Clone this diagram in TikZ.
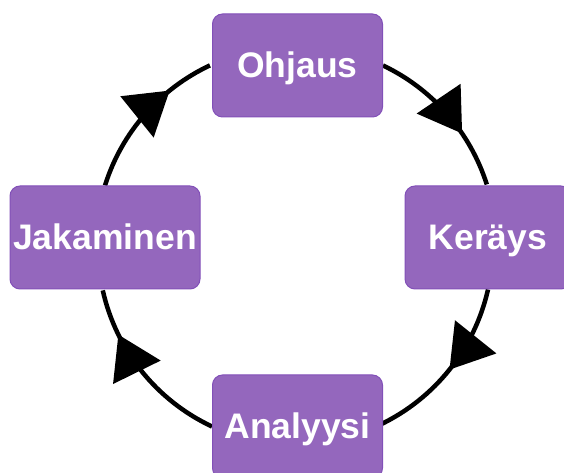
\documentclass[tikz,border=0pt]{standalone}
\usepackage{fontspec}
\setmainfont{Liberation Sans}
\usetikzlibrary{arrows.meta,decorations.markings,backgrounds}
\definecolor{stagefill}{HTML}{9467BD}
\definecolor{stageedge}{HTML}{8250B8}
\tikzset{
  stage/.style={draw=stageedge, line width=1pt, fill=stagefill,
    rounded corners=10pt, text=white,
    font=\fontsize{35.5}{40}\selectfont\bfseries,
    text height=25pt, text depth=0pt, inner sep=0pt, minimum height=103pt},
  cycleline/.style={line width=4.5pt, black},
  tipat/.style={postaction={decorate},
    decoration={markings, mark=at position #1 with
      {\arrow{Triangle[length=42pt,width=52pt]}}}},
}
\begin{document}
\begin{tikzpicture}[x=1pt,y=1pt]
\useasboundingbox (0,0) rectangle (564,473);

% the four stages of the cycle
\node[stage, minimum width=170pt] (O) at (297.5,407.5) {Ohjaus};
\node[stage, minimum width=166pt] (K) at (488,235.5) {Keräys};
\node[stage, minimum width=170pt] (A) at (297.5,46.5) {Analyysi};
\node[stage, minimum width=190pt] (J) at (105,235.5) {Jakaminen};

% clockwise arcs of one circle, drawn behind the boxes
\begin{scope}[on background layer]
  \draw[cycleline, tipat=0.65] (O.east) arc[start angle=64.6, end angle=17.6, radius=198];
  \draw[cycleline, tipat=0.50] (K.south) arc[start angle=-12.7, end angle=-64.6, radius=198];
  \draw[cycleline, tipat=0.74] (A.west) arc[start angle=244.9, end angle=192.6, radius=198];
  \draw[cycleline, tipat=0.71] (J.north) arc[start angle=162.6, end angle=115.1, radius=198];
\end{scope}
\end{tikzpicture}
\end{document}
